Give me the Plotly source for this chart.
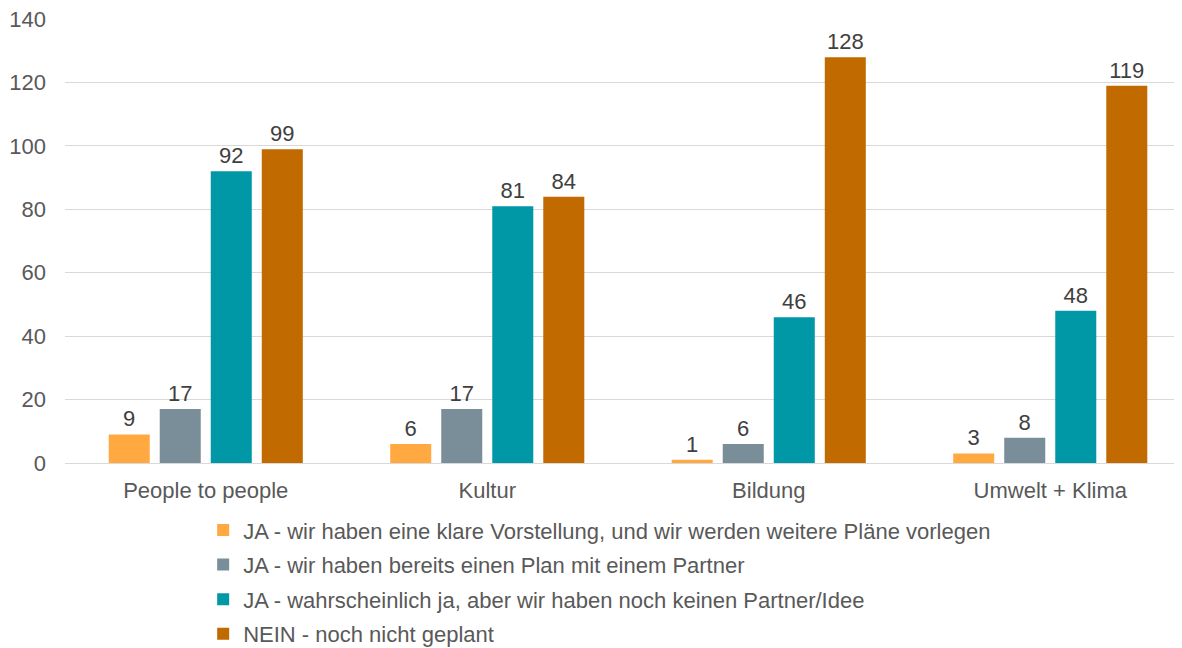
import plotly.graph_objects as go

categories = ["People to people", "Kultur", "Bildung", "Umwelt + Klima"]
series_names = [
    "JA - wir haben eine klare Vorstellung, und wir werden weitere Pläne vorlegen",
    "JA - wir haben bereits einen Plan mit einem Partner",
    "JA - wahrscheinlich ja, aber wir haben noch keinen Partner/Idee",
    "NEIN - noch nicht geplant",
]
values_klar = [9, 6, 1, 3]
values_plan = [17, 17, 6, 8]
values_wahrsch = [92, 81, 46, 48]
values_nein = [99, 84, 128, 119]
colors = ["#FFA940", "#7A8E99", "#0097A7", "#C06A00"]
y_ticks = [0, 20, 40, 60, 80, 100, 120, 140]

FONT = "Liberation Sans, Arial, sans-serif"
FS = 22
fig = go.Figure()
for i, (name, vals) in enumerate(zip(series_names, [values_klar, values_plan, values_wahrsch, values_nein])):
    fig.add_trace(go.Bar(
        x=categories, y=vals, name=name,
        marker=dict(color=colors[i], line=dict(width=0)),
        text=[str(v) for v in vals], textposition="outside",
        textfont=dict(family=FONT, size=FS, color="#404040"),
        cliponaxis=False, legendgroup=f"g{i}",
    ))

fig.update_layout(
    width=1174, height=640,
    margin=dict(l=57, r=0, t=11, b=185, autoexpand=False),
    paper_bgcolor="white", plot_bgcolor="white",
    barmode="group", bargap=0.275, bargroupgap=0.196,
    font=dict(family=FONT, size=FS, color="#595959"),
    xaxis=dict(range=[-0.5, 3.468], showgrid=False, showline=True, linecolor="#D9D9D9",
               linewidth=1, ticks="", tickfont=dict(size=FS, color="#595959"),
               automargin=False, ticklabelstandoff=8),
    yaxis=dict(range=[0, 140.05], tickvals=y_ticks, showgrid=True, gridcolor="#D9D9D9",
               gridwidth=1, zeroline=False, ticks="", showline=False,
               tickfont=dict(size=FS, color="#595959"), ticklabelstandoff=18,
               ticklabeloverflow="allow", automargin=False),
    legend=dict(orientation="v", x=0.1237, xanchor="left", y=-0.104, yanchor="top",
                font=dict(family=FONT, size=FS, color="#595959"),
                traceorder="grouped", tracegroupgap=3, itemwidth=30,
                bgcolor="rgba(0,0,0,0)"),
    showlegend=True,
)
fig.write_html("out.html")
